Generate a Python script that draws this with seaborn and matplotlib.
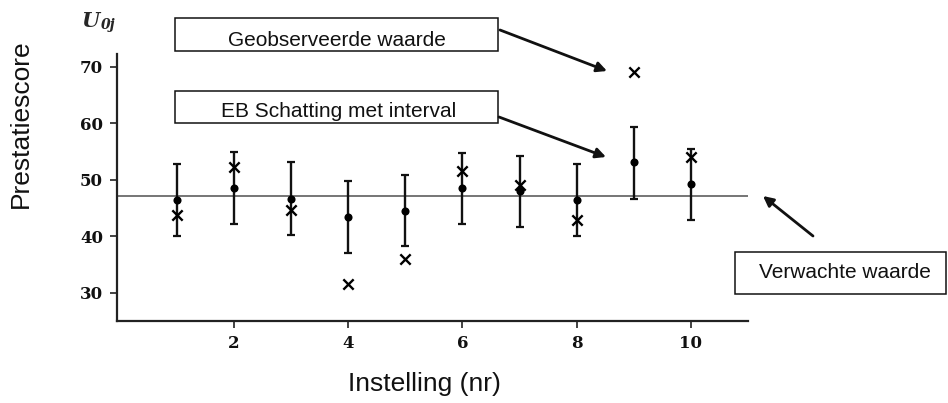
import matplotlib
matplotlib.use('Agg')
import matplotlib.pyplot as plt
import seaborn as sns
import pandas as pd
from matplotlib.patches import Rectangle

# ---- data ----
instelling = [1, 2, 3, 4, 5, 6, 7, 8, 9, 10]
eb_schatting = [46.5, 48.6, 46.7, 43.5, 44.5, 48.5, 48.1, 46.4, 53.1, 49.2]
geobserveerd = [43.8, 52.2, 44.7, 31.6, 36.0, 51.5, 49.1, 42.9, 69.1, 54.0]
interval_laag = [40.1, 42.2, 40.3, 37.1, 38.2, 42.1, 41.6, 40.1, 46.6, 42.9]
interval_hoog = [52.9, 54.9, 53.1, 49.8, 50.9, 54.8, 54.3, 52.8, 59.4, 55.5]
verwachte_waarde = 47.2

x_ticks = [2, 4, 6, 8, 10]
x_tick_labels = ['2', '4', '6', '8', '10']
y_ticks = [30, 40, 50, 60, 70]
y_tick_labels = ['30', '40', '50', '60', '70']

x_label = 'Instelling (nr)'
y_label = 'Prestatiescore'
box_texts = ['Geobserveerde waarde', 'EB Schatting met interval', 'Verwachte waarde']

# ---- style ----
sns.set_style('ticks')
plt.rcParams['font.family'] = ['Liberation Sans', 'DejaVu Sans']

W, H = 948, 403
fig = plt.figure(figsize=(W / 100, H / 100), dpi=100)
ax = fig.add_axes([117 / W, 1 - 321 / H, (748 - 117) / W, (321 - 54) / H])

df = pd.DataFrame({
    'instelling': instelling,
    'eb': eb_schatting,
    'obs': geobserveerd,
    'lo': interval_laag,
    'hi': interval_hoog,
})

ax.axhline(verwachte_waarde, color='#6a6a6a', lw=1.3, zorder=1)
ax.errorbar(df['instelling'], df['eb'],
            yerr=[df['eb'] - df['lo'], df['hi'] - df['eb']],
            fmt='none', ecolor='#111111', elinewidth=1.7, capsize=3.2, capthick=1.6, zorder=2)
sns.scatterplot(data=df, x='instelling', y='eb', marker='o', s=34, color='black',
                edgecolor='black', linewidth=0, ax=ax, zorder=3, legend=False)
sns.scatterplot(data=df, x='instelling', y='obs', marker='x', s=55, color='black',
                linewidth=1.7, ax=ax, zorder=3, legend=False)

ax.set_xlim(-0.05, 11.0)
ax.set_ylim(25.0, 72.3)
ax.set_xticks(x_ticks)
ax.set_xticklabels(x_tick_labels)
ax.set_yticks(y_ticks)
ax.set_yticklabels(y_tick_labels)
ax.tick_params(axis='both', direction='out', length=5, width=1.2, color='#222222',
               labelsize=12, pad=5, labelcolor='#111111')
for lab in ax.get_xticklabels() + ax.get_yticklabels():
    lab.set_family(['DejaVu Serif'])
    lab.set_fontweight('bold')

for s in ['top', 'right']:
    ax.spines[s].set_visible(False)
for s in ['left', 'bottom']:
    ax.spines[s].set_linewidth(1.6)
    ax.spines[s].set_color('#222222')

ax.set_xlabel(x_label, fontsize=19, color='#111111')
ax.set_ylabel(y_label, fontsize=19, color='#111111')
ax.xaxis.set_label_coords((424.5 - 117) / 631, (321 - 372) / 267)
ax.yaxis.set_label_coords((33 - 117) / 631, (321 - 124) / 267)

# U_0j label
fig.text(81 / W, 1 - 27 / H, 'U', fontsize=15, fontweight='bold', fontstyle='italic',
         family=['DejaVu Serif'], va='baseline', ha='left')
fig.text(101 / W, 1 - 29 / H, '0j', fontsize=10, fontweight='bold', fontstyle='italic',
         family=['DejaVu Serif'], va='baseline', ha='left')

# boxes with text
boxes = [((175, 18, 498, 51), (337, 46)),
         ((175, 91, 498, 123), (339, 117)),
         ((735, 252, 946, 294), (845, 278))]
for ((x0, y0, x1, y1), (tx, ty)), txt in zip(boxes, box_texts):
    fig.add_artist(Rectangle((x0 / W, 1 - y1 / H), (x1 - x0) / W, (y1 - y0) / H,
                             transform=fig.transFigure, fill=False, ec='#111111', lw=1.1))
    fig.text(tx / W, 1 - ty / H, txt, fontsize=15, ha='center', va='baseline', color='#111111')

# arrows
arrows = [((500, 30), (607, 71)), ((499, 117), (606, 157)), ((813, 236), (763, 196))]
for (sx, sy), (ex, ey) in arrows:
    ax.annotate('', xy=(ex, H - ey), xycoords='figure pixels',
                xytext=(sx, H - sy), textcoords='figure pixels',
                arrowprops=dict(arrowstyle='-|>', color='#111111', lw=2,
                                mutation_scale=15, shrinkA=0, shrinkB=0),
                annotation_clip=False)

fig.savefig('out.png', dpi=100)
